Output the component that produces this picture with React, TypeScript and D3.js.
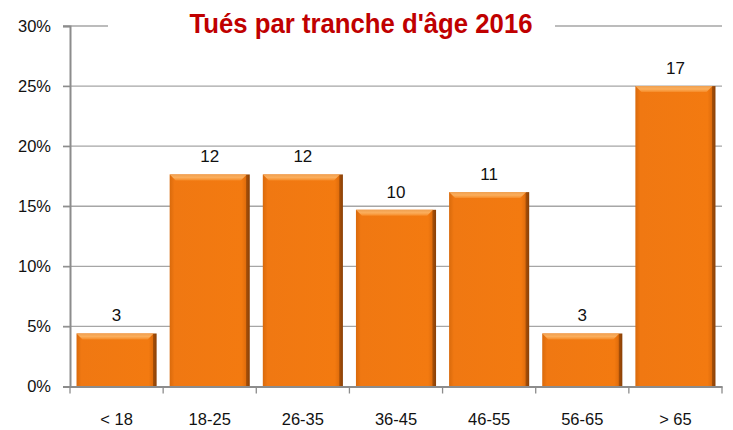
import React, { useEffect, useRef } from 'react';
import * as d3 from 'd3';

// data
const categories = ['< 18', '18-25', '26-35', '36-45', '46-55', '56-65', '> 65'];
const killed = [3, 12, 12, 10, 11, 3, 17];
const yTicks = [0, 0.05, 0.1, 0.15, 0.2, 0.25, 0.3];
const title = "Tués par tranche d'âge 2016";

const App = () => {
  const chartRef = useRef<SVGSVGElement>(null);

  useEffect(() => {
    document.body.style.margin = '0';
    const width = 733;
    const height = 430;
    const marginLeft = 70;
    const marginRight = 11;
    const marginTop = 26;
    const marginBottom = 43.5;

    const svg = d3.select(chartRef.current);
    svg.selectAll('*').remove();

    const total = d3.sum(killed);
    const share = killed.map(v => v / total);

    const x = d3.scaleBand()
      .domain(categories)
      .range([marginLeft, width - marginRight])
      .paddingInner(0.14)
      .paddingOuter(0.07);

    const y = d3.scaleLinear()
      .domain([0, 0.3])
      .range([height - marginBottom, marginTop]);

    const font = "'Liberation Sans', Arial, sans-serif";

    // gradients for the bevelled bars
    const defs = svg.append('defs');
    const top = defs.append('linearGradient').attr('id', 'topGrad').attr('x1', 0).attr('y1', 0).attr('x2', 0).attr('y2', 1);
    top.append('stop').attr('offset', '0%').attr('stop-color', '#f0a050');
    top.append('stop').attr('offset', '50%').attr('stop-color', '#fbae5c');
    top.append('stop').attr('offset', '100%').attr('stop-color', '#f68a26');
    const body = defs.append('linearGradient').attr('id', 'bodyGrad').attr('x1', 0).attr('y1', 0).attr('x2', 1).attr('y2', 0);
    body.append('stop').attr('offset', '0%').attr('stop-color', '#d96a0c');
    body.append('stop').attr('offset', '6%').attr('stop-color', '#f07812');
    body.append('stop').attr('offset', '90%').attr('stop-color', '#f37a10');
    body.append('stop').attr('offset', '95%').attr('stop-color', '#e26e0c');
    body.append('stop').attr('offset', '96%').attr('stop-color', '#a44e08');
    body.append('stop').attr('offset', '100%').attr('stop-color', '#8a4006');

    // gridlines
    svg.append('g')
      .selectAll('line')
      .data(yTicks.slice(1, -1))
      .join('line')
        .attr('x1', marginLeft - 7)
        .attr('x2', width - marginRight)
        .attr('y1', d => y(d))
        .attr('y2', d => y(d))
        .attr('stroke', '#a6a6a6')
        .attr('stroke-width', 1.3);

    // 30% line, interrupted by the title box
    const yMax = y(0.3);
    svg.append('line')
      .attr('x1', marginLeft - 7).attr('x2', 108)
      .attr('y1', yMax).attr('y2', yMax)
      .attr('stroke', '#a6a6a6').attr('stroke-width', 1.3);
    svg.append('line')
      .attr('x1', 555).attr('x2', width - marginRight)
      .attr('y1', yMax).attr('y2', yMax)
      .attr('stroke', '#a6a6a6').attr('stroke-width', 1.3);

    // bars
    const bars = svg.append('g')
      .selectAll('g')
      .data(categories.map((c, i) => ({ c, v: share[i], n: killed[i] })))
      .join('g');

    bars.append('rect')
      .attr('x', d => x(d.c)!)
      .attr('y', d => y(d.v))
      .attr('width', x.bandwidth())
      .attr('height', d => y(0) - y(d.v))
      .attr('fill', 'url(#bodyGrad)');

    bars.append('path')
      .attr('d', d => {
        const x0 = x(d.c)!;
        const x1 = x0 + x.bandwidth();
        const y0 = y(d.v);
        return `M${x0},${y0}H${x1 - 3}L${x1 - 9},${y0 + 6}H${x0 + 6}Z`;
      })
      .attr('fill', 'url(#topGrad)');

    bars.append('text')
      .attr('x', d => x(d.c)! + x.bandwidth() / 2)
      .attr('y', d => y(d.v) - 12)
      .attr('text-anchor', 'middle')
      .attr('font-family', font)
      .attr('font-size', 17)
      .attr('fill', '#111')
      .text(d => d.n);

    // axes
    const yAxis = svg.append('g')
      .attr('transform', `translate(${marginLeft},0)`)
      .call(d3.axisLeft(y).tickValues(yTicks).tickFormat(d3.format('.0%')).tickSize(7).tickPadding(12));
    yAxis.select('.domain').attr('stroke', '#8c8c8c').attr('stroke-width', 2);
    yAxis.selectAll('.tick line').attr('stroke', '#8c8c8c').attr('stroke-width', 1.3);
    yAxis.selectAll('text').attr('font-family', font).attr('font-size', 16.5).attr('fill', '#111');

    const xAxis = svg.append('g')
      .attr('transform', `translate(0,${y(0)})`)
      .call(d3.axisBottom(x).tickSize(0).tickPadding(27));
    xAxis.select('.domain').attr('stroke', '#8c8c8c').attr('stroke-width', 2);
    xAxis.selectAll('text').attr('font-family', font).attr('font-size', 16.5).attr('fill', '#111');

    // boundary ticks between categories
    const step = x.step();
    xAxis.append('g')
      .selectAll('line')
      .data(d3.range(categories.length + 1))
      .join('line')
        .attr('x1', i => marginLeft + i * step)
        .attr('x2', i => marginLeft + i * step)
        .attr('y1', 0)
        .attr('y2', 7)
        .attr('stroke', '#8c8c8c')
        .attr('stroke-width', 1.3);

    // title
    svg.append('text')
      .attr('x', 361)
      .attr('y', 33)
      .attr('text-anchor', 'middle')
      .attr('font-family', font)
      .attr('font-weight', 'bold')
      .attr('font-size', 27)
      .attr('textLength', 343)
      .attr('lengthAdjust', 'spacingAndGlyphs')
      .attr('fill', '#c00000')
      .text(title);
  }, []);

  return <svg ref={chartRef} width={733} height={430} style={{ display: 'block', background: '#fff' }}></svg>;
};

export default App;
